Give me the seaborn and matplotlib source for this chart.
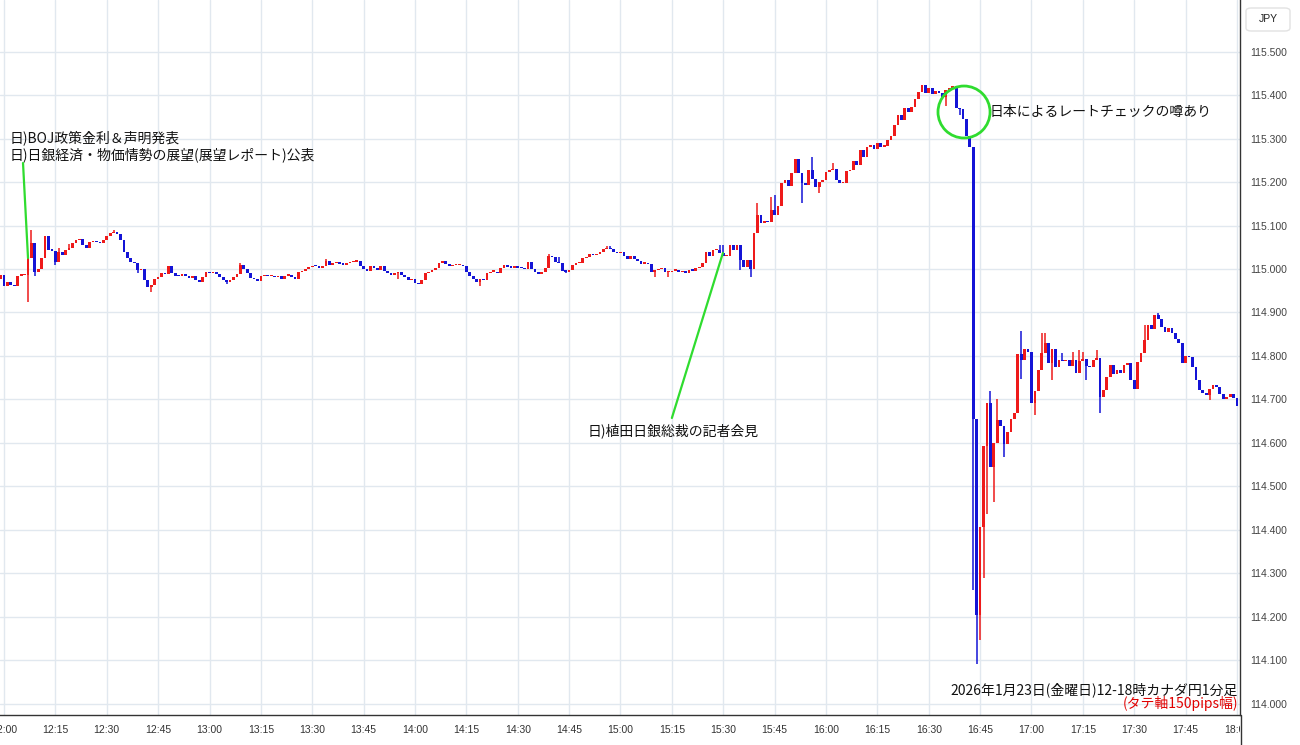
import numpy as np
import pandas as pd
import seaborn as sns
import matplotlib.pyplot as plt
from matplotlib.patches import Ellipse, FancyBboxPatch
from matplotlib.lines import Line2D
from matplotlib.transforms import Bbox, TransformedBbox

# CAD/JPY 1-minute closes, 2026-01-23 (one list per hour)
open_first = 114.976
close_1159 = [114.986]
close_12 = [114.960, 114.970, 114.963, 114.960, 114.985, 114.986, 114.987, 115.025, 115.059, 114.994,
            115.000, 115.025, 115.075, 115.044, 115.042, 115.017, 115.040, 115.033, 115.044, 115.048,
            115.059, 115.066, 115.070, 115.055, 115.048, 115.061, 115.063, 115.061, 115.060, 115.066,
            115.075, 115.082, 115.086, 115.080, 115.066, 115.040, 115.025, 115.017, 115.013, 114.998,
            115.000, 114.975, 114.958, 114.963, 114.978, 114.981, 114.990, 114.988, 115.006, 114.990,
            114.985, 114.983, 114.988, 114.985, 114.980, 114.985, 114.975, 114.970, 114.982, 114.992]
close_13 = [114.990, 114.992, 114.988, 114.982, 114.975, 114.970, 114.975, 114.982, 114.988, 115.009,
            115.000, 114.990, 114.980, 114.976, 114.972, 114.983, 114.985, 114.983, 114.984, 114.982,
            114.983, 114.978, 114.985, 114.986, 114.981, 114.978, 114.992, 114.995, 115.000, 115.005,
            115.008, 115.006, 115.003, 115.006, 115.019, 115.010, 115.014, 115.015, 115.012, 115.010,
            115.014, 115.015, 115.017, 115.019, 115.008, 115.001, 114.996, 115.006, 115.002, 114.998,
            115.006, 114.995, 114.990, 114.987, 114.990, 114.992, 114.986, 114.982, 114.975, 114.978]
close_14 = [114.968, 114.965, 114.975, 114.990, 114.994, 114.998, 115.002, 115.013, 115.019, 115.012,
            115.006, 115.009, 115.009, 115.009, 115.006, 114.994, 114.985, 114.978, 114.970, 114.978,
            114.975, 114.990, 114.994, 114.994, 114.990, 115.002, 115.009, 115.005, 115.003, 115.007,
            115.003, 115.002, 114.999, 115.015, 115.000, 114.992, 114.988, 114.994, 115.002, 115.030,
            115.028, 115.015, 115.013, 114.996, 114.994, 114.998, 115.010, 115.013, 115.013, 115.025,
            115.028, 115.034, 115.032, 115.034, 115.038, 115.045, 115.048, 115.045, 115.040, 115.036]
close_15 = [115.038, 115.030, 115.024, 115.030, 115.022, 115.018, 115.012, 115.012, 115.011, 114.992,
            114.998, 115.000, 115.002, 114.992, 114.992, 114.996, 114.997, 114.992, 114.995, 114.990,
            114.998, 114.996, 115.002, 115.005, 115.013, 115.040, 115.030, 115.044, 115.044, 115.036,
            115.030, 115.030, 115.055, 115.044, 115.055, 115.021, 115.005, 115.021, 115.000, 115.082,
            115.124, 115.105, 115.110, 115.108, 115.136, 115.124, 115.144, 115.197, 115.205, 115.190,
            115.220, 115.254, 115.220, 115.197, 115.193, 115.228, 115.208, 115.188, 115.200, 115.205]
close_16 = [115.222, 115.228, 115.230, 115.205, 115.197, 115.198, 115.225, 115.228, 115.248, 115.238,
            115.274, 115.258, 115.281, 115.285, 115.276, 115.289, 115.281, 115.283, 115.297, 115.306,
            115.330, 115.354, 115.343, 115.369, 115.360, 115.372, 115.390, 115.408, 115.422, 115.405,
            115.415, 115.403, 115.410, 115.405, 115.395, 115.412, 115.417, 115.420, 115.370, 115.368,
            115.345, 115.305, 115.280, 114.656, 114.205, 114.406, 114.592, 114.692, 114.545, 114.600,
            114.652, 114.640, 114.598, 114.625, 114.655, 114.668, 114.804, 114.790, 114.817, 114.810]
close_17 = [114.692, 114.720, 114.768, 114.806, 114.829, 114.783, 114.817, 114.775, 114.791, 114.788,
            114.791, 114.776, 114.791, 114.760, 114.789, 114.792, 114.778, 114.775, 114.791, 114.795,
            114.706, 114.722, 114.752, 114.779, 114.758, 114.768, 114.760, 114.779, 114.783, 114.745,
            114.725, 114.787, 114.806, 114.837, 114.871, 114.863, 114.894, 114.886, 114.867, 114.855,
            114.864, 114.852, 114.840, 114.829, 114.783, 114.800, 114.798, 114.775, 114.745, 114.722,
            114.714, 114.710, 114.725, 114.733, 114.729, 114.712, 114.702, 114.706, 114.712, 114.704,
            114.686]

# wicks that reach beyond the body (minute index from 12:00 -> price)
high_wick = {8: 115.090, 16: 115.048, 19: 115.058, 32: 115.090, 69: 115.013, 94: 115.022,
             159: 115.034, 162: 115.028, 176: 115.053, 177: 115.053, 209: 115.055, 210: 115.055,
             220: 115.151, 224: 115.166, 225: 115.170, 236: 115.258, 242: 115.243, 288: 114.719,
             290: 114.701, 297: 114.857, 303: 114.852, 304: 114.852, 309: 114.806, 312: 114.810,
             314: 114.814, 315: 114.810, 319: 114.814, 333: 114.871, 337: 114.898}
low_wick = {7: 114.923, 9: 114.985, 15: 115.010, 39: 114.990, 43: 114.946, 65: 114.966,
            115: 114.978, 139: 114.960, 164: 114.990, 190: 114.982, 194: 114.982, 215: 114.998,
            218: 114.982, 233: 115.151, 238: 115.175, 275: 115.375, 279: 115.354, 283: 114.263,
            284: 114.093, 285: 114.146, 286: 114.290, 287: 114.437, 289: 114.464, 292: 114.567,
            297: 114.746, 301: 114.665, 306: 114.745, 316: 114.745, 320: 114.668, 352: 114.699}

price_ticks = [114.0, 114.1, 114.2, 114.3, 114.4, 114.5, 114.6, 114.7, 114.8, 114.9,
               115.0, 115.1, 115.2, 115.3, 115.4, 115.5]

close = close_1159 + close_12 + close_13 + close_14 + close_15 + close_16 + close_17
df = pd.DataFrame({'minute': np.arange(-1, len(close) - 1),
                   'open': [open_first] + close[:-1],
                   'close': close})
df['high'] = df[['open', 'close']].max(axis=1)
df['low'] = df[['open', 'close']].min(axis=1)
for m, v in high_wick.items():
    df.loc[df.minute == m, 'high'] = v
for m, v in low_wick.items():
    df.loc[df.minute == m, 'low'] = v

RED = '#ee1a1a'
BLUE = '#1414d6'
GREEN = '#2fdc2f'

sns.set_style('whitegrid', {'grid.color': '#e1e8ef'})
plt.rcParams['font.family'] = ['Liberation Sans', 'Noto Sans CJK JP', 'DejaVu Sans']
jp = ['Noto Sans CJK JP', 'DejaVu Sans']

W, H = 1300, 745
fig = plt.figure(figsize=(13, 7.45), dpi=100)
ax = fig.add_axes([0, 30 / H, 1240 / W, 715 / H])
ax.set_xlim(-1.17, 360.88)
ax.set_ylim(113.9747, 115.6184)

up = df['close'] >= df['open']
colors = np.where(up, RED, BLUE)
ax.vlines(df['minute'], df['low'], df['high'], colors=colors, lw=1.1, zorder=3)
body = (df['close'] - df['open']).abs().clip(lower=0.003)
bottom = df[['open', 'close']].min(axis=1)
ax.bar(df['minute'], body, bottom=bottom, width=0.8, color=colors, linewidth=0, zorder=4)

# axes / grid
xt = np.arange(0, 361, 15)
ax.set_xticks(xt)
ax.set_xticklabels([f"{12 + m // 60}:{m % 60:02d}" for m in xt])
ax.set_yticks(price_ticks)
ax.set_yticklabels([f"{v:.3f}" for v in price_ticks])
ax.yaxis.tick_right()
ax.tick_params(axis='y', length=0, pad=7, labelsize=7.5, labelcolor='#444444')
ax.tick_params(axis='x', length=0, pad=7, labelsize=7.5, labelcolor='#333333')
ax.grid(True, color='#e1e8ef', lw=1)
sns.despine(ax=ax, left=True, top=True, right=False, bottom=False)
ax.spines['right'].set_color('#333333')
ax.spines['bottom'].set_color('#333333')
ax.spines['right'].set_linewidth(1)
ax.spines['bottom'].set_linewidth(1)

# the right price panel hides the tail of the 18:00 label, as in the source chart
clip = TransformedBbox(Bbox([[0, 0], [1240 / W, 1]]), fig.transFigure)
for lbl in ax.get_xticklabels():
    lbl.set_clip_box(clip)
    lbl.set_clip_on(True)

fig.add_artist(Line2D([1240.5 / W, 1240.5 / W], [0, 30 / H], color='#333333', lw=1))
fig.add_artist(FancyBboxPatch((1246 / W, 1 - 31 / H), 44 / W, 23 / H,
                              boxstyle='round,pad=0,rounding_size=0.004',
                              transform=fig.transFigure, fc='white', ec='#e2e2e2', lw=1))
fig.text(1268 / W, 1 - 19.5 / H, 'JPY', ha='center', va='center', fontsize=7.5, color='#222222')

# annotations
ax.plot([5.55, 7.01], [115.2437, 115.0253], color=GREEN, lw=1.6, zorder=5)
ax.plot([195.0, 209.9], [114.6575, 115.0368], color=GREEN, lw=1.6, zorder=5)
ax.add_patch(Ellipse((280.3, 115.3609), 15.2, 0.1195, fill=False, ec=GREEN, lw=2, zorder=6))

ax.text(1.75, 115.3011, '日)BOJ政策金利＆声明発表', fontsize=10, family=jp, va='center', ha='left', color='#111111')
ax.text(1.75, 115.2621, '日)日銀経済・物価情勢の展望(展望レポート)公表', fontsize=10, family=jp,
        va='center', ha='left', color='#111111')
ax.text(170.5, 114.6276, '日)植田日銀総裁の記者会見', fontsize=10, family=jp, va='center', ha='left', color='#111111')
ax.text(287.9, 115.3609, '日本によるレートチェックの噂あり', fontsize=10, family=jp, va='center', ha='left',
        color='#111111')
ax.text(360.3, 114.0322, '2026年1月23日(金曜日)12-18時カナダ円1分足', fontsize=10, family=jp,
        va='center', ha='right', color='#111111')
ax.text(360.3, 114.0000, '(タテ軸150pips幅)', fontsize=10, family=jp, va='center', ha='right', color='#e00000')

fig.savefig('out.png', dpi=100)
